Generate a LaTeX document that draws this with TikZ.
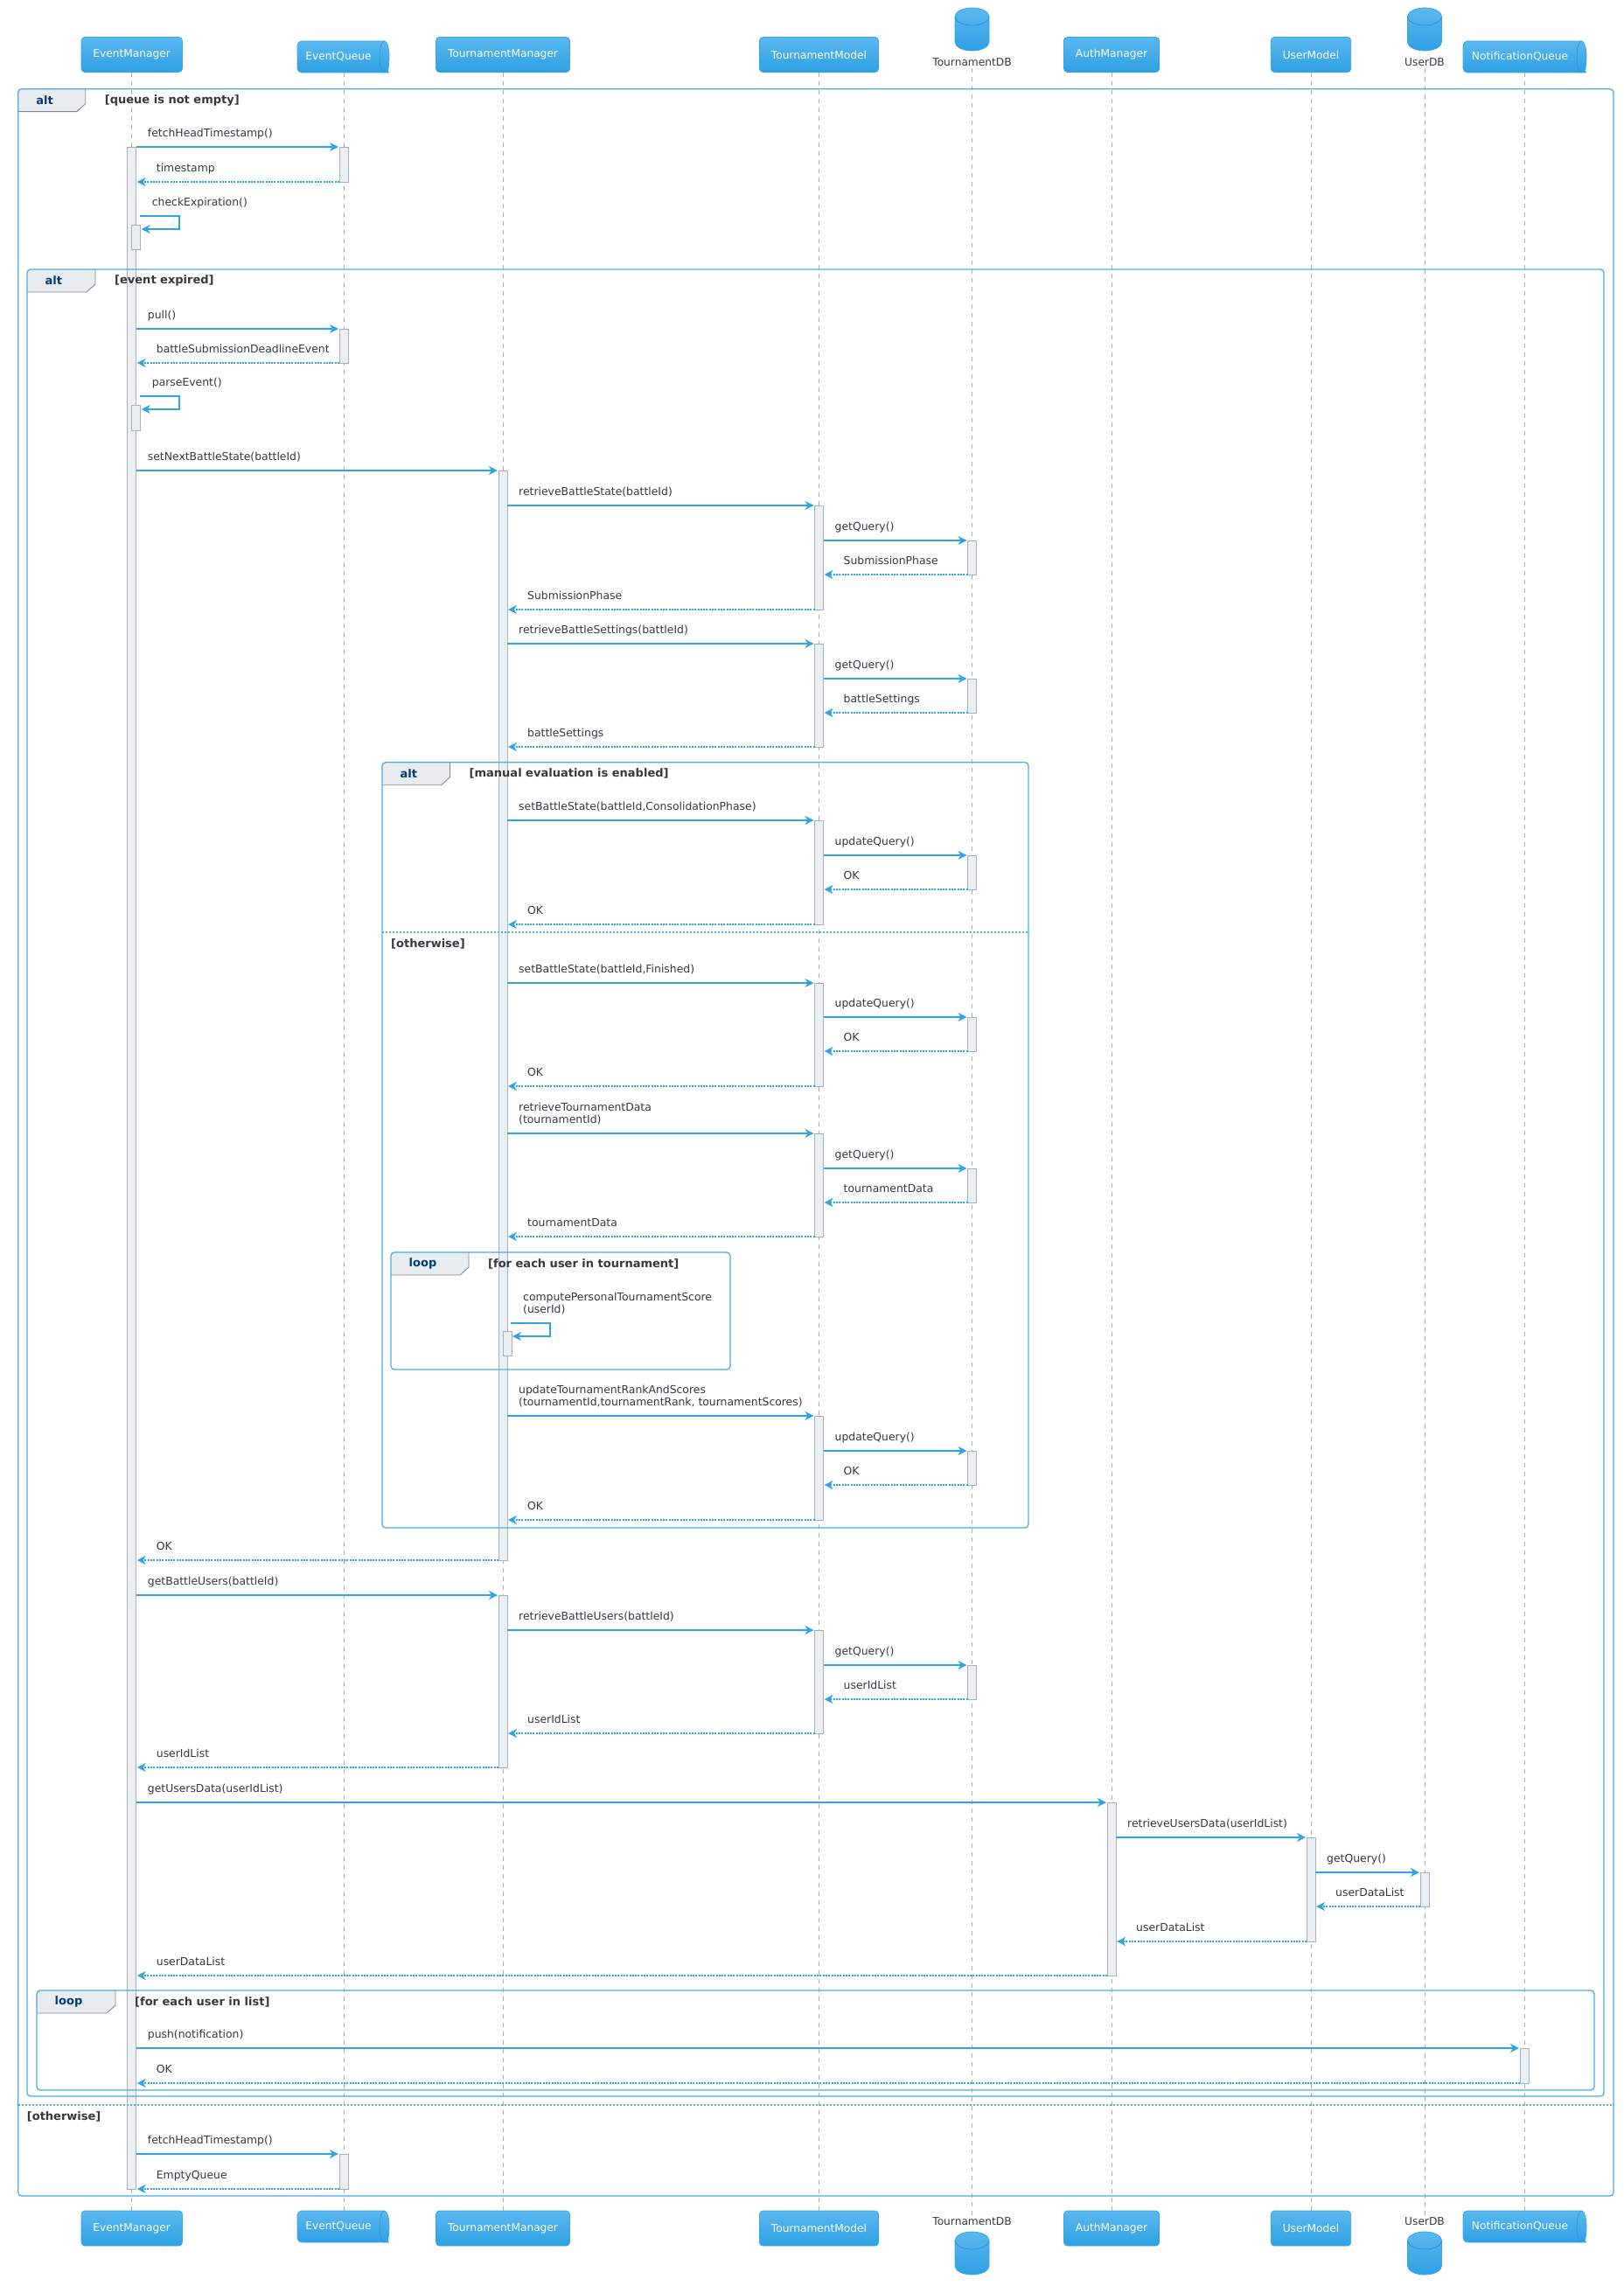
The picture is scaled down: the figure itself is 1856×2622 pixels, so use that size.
\documentclass[tikz,border=0pt]{standalone}
\usepackage{fontspec}
\setmainfont{DejaVu Sans}
\usetikzlibrary{calc,arrows.meta}

\definecolor{arrowblue}{HTML}{2FA4E7}
\definecolor{headtop}{HTML}{5BB8EF}
\definecolor{headbot}{HTML}{2EA0E4}
\definecolor{headline}{HTML}{3AA6E6}
\definecolor{frameblue}{HTML}{4AADEA}
\definecolor{tabfill}{HTML}{E9ECEF}
\definecolor{tabline}{HTML}{7F8B95}
\definecolor{keynavy}{HTML}{033C73}
\definecolor{textgrey}{HTML}{343A40}
\definecolor{actfill}{HTML}{ECEFF2}
\definecolor{actline}{HTML}{A8B0B8}
\definecolor{lifegrey}{HTML}{ADADAD}

\newcounter{msgno}
\newcounter{grpno}
% message from #1 to #2 at height #3
\newcommand{\callmsg}[4]{%
  \stepcounter{msgno}%
  \draw[callarrow] ($(#1)+(5,#3)$) -- ($(#2)+(-6,#3)$);
  \node[msgtext] (msg\arabic{msgno}) at ($(#1)+(18,#3-8)$) {#4};}
% reply from #1 back to #2
\newcommand{\retmsg}[4]{%
  \stepcounter{msgno}%
  \draw[retarrow] ($(#1)+(-5,#3)$) -- ($(#2)+(6,#3)$);
  \node[msgtext] (msg\arabic{msgno}) at ($(#2)+(28,#3-8)$) {#4};}
% self call
\newcommand{\selfmsg}[3]{%
  \stepcounter{msgno}%
  \draw[callarrow] ($(#1)+(9,#2)$) -- ++(45,0) -- ++(0,15) -- ($(#1)+(11,#2+15)$);
  \node[msgtext] (msg\arabic{msgno}) at ($(#1)+(23,#2-8)$) {#3};}
% activation bar
\newcommand{\actbar}[4][0]{%
  \draw[actbox] ($(#2)+(#1-5,#3)$) rectangle ($(#2)+(#1+5,#4)$);}
% group frame: x1,y1,x2,y2,tab width
\newcommand{\grp}[5]{%
  \begin{scope}
    \clip[rounded corners=4pt] (#1,#2) rectangle (#3,#4);
    \fill[tabfill] (#1,#2+26) -- (#1,#2) -- (#1+#5,#2) -- (#1+#5,#2+17) -- (#1+#5-10,#2+26) -- cycle;
  \end{scope}
  \draw[tabedge] (#1+#5,#2) -- (#1+#5,#2+17) -- (#1+#5-10,#2+26) -- (#1,#2+26);
  \draw[frameedge] (#1,#2) rectangle (#3,#4);}
% group texts: x1,y1,tab width,keyword,condition
\newcommand{\grptext}[5]{%
  \stepcounter{grpno}%
  \node[grpkey] (key\arabic{grpno}) at (#1+20.5,#2+13) {#4};
  \node[grpcond] (cond\arabic{grpno}) at (#1+#3+22,#2+13) {#5};}
% else separator
\newcommand{\grpelse}[4]{%
  \stepcounter{grpno}%
  \draw[elseline] (#1,#3) -- (#2,#3);
  \node[grpcond] (cond\arabic{grpno}) at (#1+10,#3+13) {#4};}
% queue head: name,x1,y1,x2,y2,label
\newcommand{\queuehead}[6]{%
  \draw[queueshape] [rounded corners=5pt] (#4-5.5,#3) -- (#2,#3) -- (#2,#5) -- (#4-5.5,#5)
    [sharp corners] arc[start angle=-90,end angle=90,x radius=5.5pt,y radius=18pt] -- cycle;
  \draw[queuecap] (#4-5.5,#3) arc[start angle=90,end angle=270,x radius=5.5pt,y radius=18pt];
  \node[queuetext] (#1) at ({(#2+#4-11)/2},{(#3+#5)/2}) {#6};}
% database head: name,cx,top,label,label y
\newcommand{\dbhead}[5]{%
  \draw[dbshape] (#2-19.5,#3+10) -- (#2-19.5,#3+39)
    arc[start angle=180,end angle=360,x radius=19.5pt,y radius=10pt] -- (#2+19.5,#3+10)
    arc[start angle=0,end angle=180,x radius=19.5pt,y radius=10pt] -- cycle;
  \draw[dbrim] (#2-19.5,#3+10) arc[start angle=180,end angle=360,x radius=19.5pt,y radius=10pt];
  \node[dblabel] (#1) at (#2,#5) {#4};}

\begin{document}
\begin{tikzpicture}[x=1pt,y=-1pt,
  callarrow/.style={draw=arrowblue,line width=2.2pt,-{Stealth[length=10pt,width=10pt,inset=3pt]}},
  retarrow/.style={callarrow,line width=2.4pt,dash pattern=on 2pt off 1.3pt},
  msgtext/.style={anchor=south west,inner sep=0pt,align=left,text depth=3pt,
    text=textgrey,font=\fontsize{12.4pt}{14pt}\selectfont},
  lifeline/.style={draw=lifegrey,line width=1pt,dash pattern=on 5pt off 5pt},
  actbox/.style={fill=actfill,draw=actline,line width=0.8pt},
  frameedge/.style={draw=frameblue,line width=1.3pt,rounded corners=4pt},
  tabedge/.style={draw=tabline,line width=0.9pt},
  elseline/.style={draw=frameblue,line width=1.1pt,dash pattern=on 2pt off 2pt},
  grpkey/.style={anchor=west,inner sep=0pt,text=keynavy,font=\bfseries\fontsize{13pt}{15pt}\selectfont},
  grpcond/.style={anchor=west,inner sep=0pt,text=textgrey,font=\bfseries\fontsize{13pt}{15pt}\selectfont},
  headbox/.style={rectangle,rounded corners=4pt,draw=headline,line width=0.8pt,
    top color=headtop,bottom color=headbot,text=white,minimum height=40pt,inner xsep=13.5pt,
    font=\fontsize{12.2pt}{14pt}\selectfont},
  queueshape/.style={draw=headline,line width=0.8pt,top color=headtop,bottom color=headbot},
  queuecap/.style={draw=headline!85!black,line width=0.5pt},
  queuetext/.style={inner sep=0pt,minimum height=36pt,text=white,font=\fontsize{12.2pt}{14pt}\selectfont},
  dbshape/.style={draw=headline,line width=0.8pt,top color=headtop,bottom color=headbot},
  dbrim/.style={draw=headbot!85!black,line width=0.6pt},
  dblabel/.style={inner sep=2pt,text=textgrey,font=\fontsize{12.2pt}{14pt}\selectfont}]

\useasboundingbox (0,0) rectangle (1856,2622);
\fill[white] (0,0) rectangle (1856,2622);

% lifeline positions
\foreach \nm/\xx in {em/150.7,eq/393,tm/575,tmo/936.5,tdb/1111.5,am/1271,um/1499,udb/1629,nq/1743}
  \coordinate (\nm) at (\xx,0);

% participants, top and bottom
\node[headbox] (emTop) at (em |- 0,62.5) {EventManager};
\node[headbox] (emBot) at (em |- 0,2548) {EventManager};
\queuehead{eqTop}{340}{47}{445}{83}{EventQueue}
\queuehead{eqBot}{340}{2528}{445}{2564}{EventQueue}
\node[headbox] (tmTop) at (tm |- 0,62.5) {TournamentManager};
\node[headbox] (tmBot) at (tm |- 0,2548) {TournamentManager};
\node[headbox] (tmoTop) at (tmo |- 0,62.5) {TournamentModel};
\node[headbox] (tmoBot) at (tmo |- 0,2548) {TournamentModel};
\dbhead{tdbTop}{1111.5}{9}{TournamentDB}{71}
\dbhead{tdbBot}{1111.5}{2552}{TournamentDB}{2540}
\node[headbox] (amTop) at (am |- 0,62.5) {AuthManager};
\node[headbox] (amBot) at (am |- 0,2548) {AuthManager};
\node[headbox] (umTop) at (um |- 0,62.5) {UserModel};
\node[headbox] (umBot) at (um |- 0,2548) {UserModel};
\dbhead{udbTop}{1629}{9}{UserDB}{71}
\dbhead{udbBot}{1629}{2552}{UserDB}{2540}
\queuehead{nqTop}{1673}{47}{1814}{83}{NotificationQueue}
\queuehead{nqBot}{1673}{2528}{1814}{2564}{NotificationQueue}

% lifelines
\foreach \nm in {em,eq,tm,tmo,tdb,am,um,udb,nq}
  \draw[lifeline] (\nm Top.south -| \nm) -- (\nm Bot.north -| \nm);

% activations
\actbar{em}{168}{2503}
\actbar[5]{em}{257}{285}
\actbar[5]{em}{463}{492}
\actbar{eq}{168}{208}
\actbar{eq}{376}{415}
\actbar{eq}{2463}{2503}
\actbar{tm}{538}{1784}
\actbar[5]{tm}{1522}{1550}
\actbar{tm}{1824}{2021}
\foreach \ya/\yb in {578/697,736/854,938/1057,1124/1242,1296/1414,1619/1738,1864/1982}
  \actbar{tmo}{\ya}{\yb};
\foreach \ya/\yb in {618/657,776/815,978/1017,1163/1202,1336/1375,1659/1698,1904/1943}
  \actbar{tdb}{\ya}{\yb};
\actbar{am}{2061}{2259}
\actbar{um}{2101}{2220}
\actbar{udb}{2141}{2180}
\actbar{nq}{2342}{2382}

% groups
\grp{20.7}{101.7}{1845}{2511}{77}
\grp{31}{308}{1834}{2397}{78}
\grp{437}{871.7}{1176}{1747}{77.5}
\grp{447}{1432}{835}{1566}{89}
\grp{42}{2276}{1823}{2390}{90}
\grptext{20.7}{101.7}{77}{alt}{[queue is not empty]}
\grpelse{20.7}{1845}{2407}{[otherwise]}
\grptext{31}{308}{78}{alt}{[event expired]}
\grptext{437}{871.7}{77.5}{alt}{[manual evaluation is enabled]}
\grpelse{437}{1176}{1066}{[otherwise]}
\grptext{447}{1432}{89}{loop}{[for each user in tournament]}
\grptext{42}{2276}{90}{loop}{[for each user in list]}

% queue is not empty
\callmsg{em}{eq}{168}{fetchHeadTimestamp()}
\retmsg{eq}{em}{208}{timestamp}
\selfmsg{em}{247}{checkExpiration()}
% event expired
\callmsg{em}{eq}{376}{pull()}
\retmsg{eq}{em}{415}{battleSubmissionDeadlineEvent}
\selfmsg{em}{453}{parseEvent()}
\callmsg{em}{tm}{538}{setNextBattleState(battleId)}
\callmsg{tm}{tmo}{578}{retrieveBattleState(battleId)}
\callmsg{tmo}{tdb}{618}{getQuery()}
\retmsg{tdb}{tmo}{657}{SubmissionPhase}
\retmsg{tmo}{tm}{697}{SubmissionPhase}
\callmsg{tm}{tmo}{736}{retrieveBattleSettings(battleId)}
\callmsg{tmo}{tdb}{776}{getQuery()}
\retmsg{tdb}{tmo}{815}{battleSettings}
\retmsg{tmo}{tm}{854}{battleSettings}
% manual evaluation
\callmsg{tm}{tmo}{938}{setBattleState(battleId,ConsolidationPhase)}
\callmsg{tmo}{tdb}{978}{updateQuery()}
\retmsg{tdb}{tmo}{1017}{OK}
\retmsg{tmo}{tm}{1057}{OK}
% otherwise
\callmsg{tm}{tmo}{1124}{setBattleState(battleId,Finished)}
\callmsg{tmo}{tdb}{1163}{updateQuery()}
\retmsg{tdb}{tmo}{1202}{OK}
\retmsg{tmo}{tm}{1242}{OK}
\callmsg{tm}{tmo}{1296}{retrieveTournamentData\\(tournamentId)}
\callmsg{tmo}{tdb}{1336}{getQuery()}
\retmsg{tdb}{tmo}{1375}{tournamentData}
\retmsg{tmo}{tm}{1414}{tournamentData}
\selfmsg{tm}{1513}{computePersonalTournamentScore\\(userId)}
\callmsg{tm}{tmo}{1619}{updateTournamentRankAndScores\\(tournamentId,tournamentRank, tournamentScores)}
\callmsg{tmo}{tdb}{1659}{updateQuery()}
\retmsg{tdb}{tmo}{1698}{OK}
\retmsg{tmo}{tm}{1738}{OK}
\retmsg{tm}{em}{1784}{OK}
% users of the battle
\callmsg{em}{tm}{1824}{getBattleUsers(battleId)}
\callmsg{tm}{tmo}{1864}{retrieveBattleUsers(battleId)}
\callmsg{tmo}{tdb}{1904}{getQuery()}
\retmsg{tdb}{tmo}{1943}{userIdList}
\retmsg{tmo}{tm}{1982}{userIdList}
\retmsg{tm}{em}{2021}{userIdList}
\callmsg{em}{am}{2061}{getUsersData(userIdList)}
\callmsg{am}{um}{2101}{retrieveUsersData(userIdList)}
\callmsg{um}{udb}{2141}{getQuery()}
\retmsg{udb}{um}{2180}{userDataList}
\retmsg{um}{am}{2220}{userDataList}
\retmsg{am}{em}{2259}{userDataList}
% notifications
\callmsg{em}{nq}{2342}{push(notification)}
\retmsg{nq}{em}{2382}{OK}
% queue empty
\callmsg{em}{eq}{2463}{fetchHeadTimestamp()}
\retmsg{eq}{em}{2503}{EmptyQueue}
\end{tikzpicture}
\end{document}
